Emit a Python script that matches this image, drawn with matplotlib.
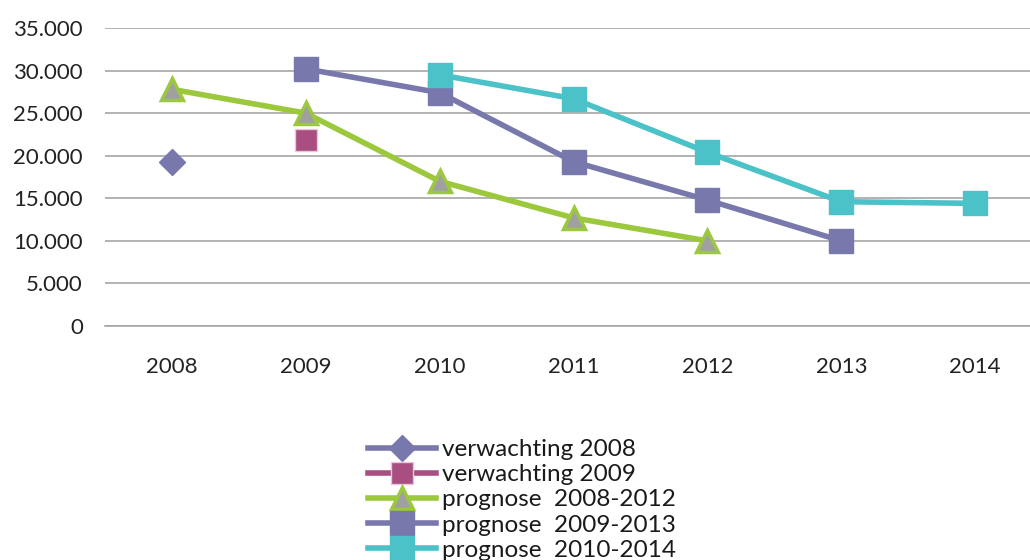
import matplotlib.pyplot as plt
import numpy as np

plt.rcParams['font.family'] = ['Lato', 'DejaVu Sans']

years = ['2008', '2009', '2010', '2011', '2012', '2013', '2014']
verw_2008 = [19300, None, None, None, None, None, None]
verw_2009 = [None, 21900, None, None, None, None, None]
progn_0812 = [27800, 25000, 17000, 12700, 10000, None, None]
progn_0913 = [None, 30200, 27400, 19300, 14800, 10000, None]
progn_1014 = [None, None, 29500, 26700, 20400, 14600, 14400]


def arr(v):
    return np.array([np.nan if x is None else x for x in v], dtype=float)


x = np.arange(len(years))

fig = plt.figure(figsize=(10.3, 5.6), dpi=100)
ax = fig.add_axes([105 / 1030, 1 - 326 / 560, 1 - 105 / 1030, 298 / 560])

purple = '#7878ad'
magenta = '#a84e80'
green = '#9bc83c'
cyan = '#4bc1c8'

ax.plot(x, arr(verw_2008), color=purple, lw=4, marker='D', ms=13,
        mfc=purple, mec=purple, label='verwachting 2008', zorder=3)
ax.plot(x, arr(verw_2009), color=magenta, lw=4, marker='s', ms=16.5,
        mfc=magenta, mec='#e8c8d8', mew=1, label='verwachting 2009', zorder=3)
ax.plot(x, arr(progn_0812), color=green, lw=4, marker='^', ms=16,
        mfc='#a0a0a0', mec=green, mew=2.5, label='prognose  2008-2012', zorder=4)
ax.plot(x, arr(progn_0913), color=purple, lw=4, marker='s', ms=17,
        mfc=purple, mec=purple, label='prognose  2009-2013', zorder=3)
ax.plot(x, arr(progn_1014), color=cyan, lw=4, marker='s', ms=17,
        mfc=cyan, mec=cyan, label='prognose  2010-2014', zorder=3)

ax.set_xlim(-0.5, 6.41)
ax.set_ylim(0, 35000)
ax.set_yticks(np.arange(0, 35001, 5000))
ax.set_yticklabels(['0' if v == 0 else f'{v // 1000}.000' for v in range(0, 35001, 5000)])
ax.set_xticks(x)
ax.set_xticklabels(years)
ax.tick_params(axis='both', length=0, labelsize=16, colors='#222222')
ax.tick_params(axis='x', pad=22)
ax.tick_params(axis='y', pad=16)
ax.grid(axis='y', color='#a6a6a6', lw=1.2)
ax.set_axisbelow(True)
for s in ['top', 'right', 'left']:
    ax.spines[s].set_visible(False)
ax.spines['bottom'].set_color('#a6a6a6')
ax.spines['bottom'].set_linewidth(1.2)

leg = fig.legend(loc='upper left', bbox_to_anchor=(356 / 1030, 1 - 427 / 560),
                 frameon=False, fontsize=17.5, handlelength=2.8, handletextpad=0.25,
                 labelspacing=0.17, borderpad=0, markerscale=1.0)
for t in leg.get_texts():
    t.set_color('#1a1a1a')

fig.savefig('out.png', dpi=100)
